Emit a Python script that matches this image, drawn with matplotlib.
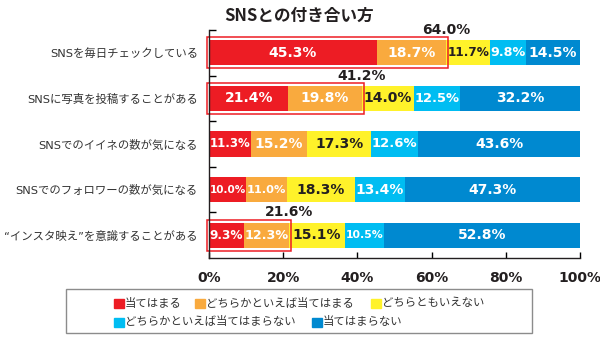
import matplotlib
matplotlib.use('Agg')
import matplotlib.pyplot as plt
from matplotlib.patches import Rectangle
from matplotlib import font_manager

plt.rcParams['font.family'] = ['Noto Sans CJK JP', 'DejaVu Sans']

# data
items = ['SNSを毎日チェックしている', 'SNSに写真を投稿することがある',
         'SNSでのイイネの数が気になる', 'SNSでのフォロワーの数が気になる',
         '“インスタ映え”を意識することがある']
atehamaru = [45.3, 21.4, 11.3, 10.0, 9.3]
yaya_atehamaru = [18.7, 19.8, 15.2, 11.0, 12.3]
dochiratomo = [11.7, 14.0, 17.3, 18.3, 15.1]
yaya_atehamaranai = [9.8, 12.5, 12.6, 13.4, 10.5]
atehamaranai = [14.5, 32.2, 43.6, 47.3, 52.8]
series = [atehamaru, yaya_atehamaru, dochiratomo, yaya_atehamaranai, atehamaranai]
names = ['当てはまる', 'どちらかといえば当てはまる', 'どちらともいえない',
         'どちらかといえば当てはまらない', '当てはまらない']
colors = ['#ED1C24', '#F9AA3E', '#FFF22A', '#00BDF2', '#0089D0']
text_colors = ['white', 'white', '#231F20', 'white', 'white']
highlight_rows = [0, 1, 4]
highlight_totals = ['64.0%', '41.2%', '21.6%']
xticks = [0, 20, 40, 60, 80, 100]

W, H = 600, 342

def fx(px):
    return px / W

def fy(py):
    return 1 - py / H

# narrow font for the tight segments, if there is one
narrow = None
try:
    font_manager.findfont('Liberation Sans Narrow', fallback_to_default=False)
    narrow = 'Liberation Sans Narrow'
except Exception:
    narrow = None

fig = plt.figure(figsize=(6, 3.42), dpi=100)
ax = fig.add_axes([fx(209), fy(258), fx(371), 228 / H])

ypos = list(range(len(items)))
left = [0.0] * len(items)
labels = []
for vals, c, tc in zip(series, colors, text_colors):
    ax.barh(ypos, vals, left=left, height=0.55, color=c, edgecolor='none')
    for i, v in enumerate(vals):
        t = ax.text(left[i] + v / 2, i, f'{v:.1f}%', ha='center', va='center',
                    color=tc, fontsize=10, fontweight='bold', family='DejaVu Sans')
        labels.append((t, v))
    left = [l + v for l, v in zip(left, vals)]

# red outline around the first two groups
for r, tot in zip(highlight_rows, highlight_totals):
    end = atehamaru[r] + yaya_atehamaru[r]
    ax.add_patch(Rectangle((-0.5, r - 0.34), end + 1.0, 0.68, fill=False,
                           edgecolor='#ED1C24', linewidth=1.1, clip_on=False))
    ax.text(end, r - 0.5, tot, ha='center', va='center', fontsize=10,
            fontweight='bold', family='DejaVu Sans', color='#231F20')

ax.set_xlim(0, 100)
ax.set_ylim(len(items) - 0.5, -0.5)
ax.set_xticks(xticks)
ax.set_xticklabels([f'{v}%' for v in xticks], fontsize=10, fontweight='bold',
                   family='DejaVu Sans', color='#231F20')
ax.set_yticks(ypos)
ax.set_yticklabels(items, fontsize=8.2, color='#333333',
                   family=['DejaVu Sans', 'Noto Sans CJK JP'])
ax.set_yticks([y - 0.5 for y in ypos], minor=True)
ax.tick_params(axis='y', which='major', length=0, pad=8)
ax.tick_params(axis='y', which='minor', direction='in', length=5, width=1)
ax.tick_params(axis='x', direction='in', length=4.5, width=1, pad=9)
for s in ['top', 'right']:
    ax.spines[s].set_visible(False)
for s in ['left', 'bottom']:
    ax.spines[s].set_linewidth(1)
    ax.spines[s].set_color('#231F20')

# squeeze labels that do not fit their segment
fig.canvas.draw()
renderer = fig.canvas.get_renderer()
px_per_pct = 371 / 100
for t, v in labels:
    seg = v * px_per_pct - 1
    w = t.get_window_extent(renderer).width
    if w > seg:
        if narrow:
            t.set_family(narrow)
            w = t.get_window_extent(renderer).width
        if w > seg:
            t.set_fontsize(t.get_fontsize() * seg / w)

fig.text(fx(299.5), fy(16), 'SNSとの付き合い方', ha='center', va='center',
         fontsize=12, fontweight='bold', color='#231F20')

# legend box
fig.add_artist(Rectangle((fx(66), fy(333)), fx(532 - 66), (333 - 289) / H,
                         transform=fig.transFigure, fill=False,
                         edgecolor='#8C8C8C', linewidth=1))
leg_pos = [(114, 303), (195, 303), (371, 303), (114, 322), (312, 322)]
for (lx, ly), name, c in zip(leg_pos, names, colors):
    fig.add_artist(Rectangle((fx(lx), fy(ly + 4.5)), fx(10), 9 / H,
                             transform=fig.transFigure, color=c))
    fig.text(fx(lx + 11), fy(ly), name, ha='left', va='center',
             fontsize=8.2, color='#333333')

fig.savefig('out.png', dpi=100)
